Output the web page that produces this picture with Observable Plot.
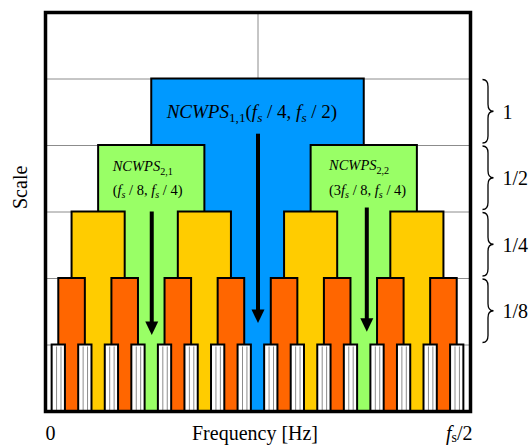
<!DOCTYPE html>
<html><head><meta charset="utf-8">
<script src="https://cdn.jsdelivr.net/npm/d3@7"></script>
<script src="https://cdn.jsdelivr.net/npm/@observablehq/plot@0.6"></script>
<style>body{margin:0;background:#fff;} #chart{width:532px;height:446px;}</style>
</head><body><div id="chart"></div>
<script>
// ---- data ----
// band centres (fraction of fs/2) for each decomposition level
const level1Centers = [0.5];
const level2Centers = [0.25, 0.75];
const level3Centers = [0.125, 0.375, 0.625, 0.875];
const level4Centers = [0.0625, 0.1875, 0.3125, 0.4375, 0.5625, 0.6875, 0.8125, 0.9375];
const level5Centers = [0.03125, 0.09375, 0.15625, 0.21875, 0.28125, 0.34375, 0.40625, 0.46875,
                       0.53125, 0.59375, 0.65625, 0.71875, 0.78125, 0.84375, 0.90625, 0.96875];
const levelWidths = [0.5, 0.25, 0.125, 0.0625, 0.03125];
const levelTops = [5, 4, 3, 2, 1];
const levelColors = ["#0099ff", "#99ff66", "#ffcc00", "#ff6600", "#ffffff"];

const gridRows = [1, 2, 3, 4, 5];
const scaleLabels = ["1", "1/2", "1/4", "1/8"];
const scaleRowTops = [5, 4, 3, 2];
const scaleRowBottoms = [4, 3, 2, 1];

const arrowX = [0.25, 0.5, 0.756];
const arrowTop = [3.0, 4.17, 3.06];
const arrowTip = [1.15, 1.33, 1.2];

const nodeTexts = [
  "<i>NCWPS</i><sub>1,1</sub>(<i>f</i><sub><i>s</i></sub> / 4, <i>f</i><sub><i>s</i></sub> / 2)",
  "<i>NCWPS</i><sub>2,1</sub>",
  "(<i>f</i><sub><i>s</i></sub> / 8, <i>f</i><sub><i>s</i></sub> / 4)",
  "<i>NCWPS</i><sub>2,2</sub>",
  "(3<i>f</i><sub><i>s</i></sub> / 8, <i>f</i><sub><i>s</i></sub> / 4)"
];
const nodeX = [0.285, 0.158, 0.158, 0.667, 0.667];
const nodeY = [4.42, 3.61, 3.26, 3.625, 3.26];

const axisTexts = ["0", "Frequency [Hz]", "<i>f</i><sb>s</sb>/2"];

// ---- build tables ----
const levels = [level1Centers, level2Centers, level3Centers, level4Centers, level5Centers];
const blocks = levels.flatMap((cs, li) => cs.map(c => ({
  x1: c - levelWidths[li] / 2, x2: c + levelWidths[li] / 2,
  y1: 0, y2: levelTops[li], fill: levelColors[li], level: li
})));
const whiteInner = level5Centers.flatMap(c => [c - levelWidths[4] / 6, c + levelWidths[4] / 6]);
const arrows = arrowX.map((x, i) => ({x, top: arrowTop[i], tip: arrowTip[i]}));
const nodes = nodeTexts.map((t, i) => ({t, x: nodeX[i], y: nodeY[i]}));
const braces = scaleLabels.map((l, i) => ({l, top: scaleRowTops[i], bottom: scaleRowBottoms[i]}));

const headSymbol = {
  draw(ctx) { ctx.moveTo(0, 0); ctx.lineTo(-6.5, -13.5); ctx.lineTo(6.5, -13.5); ctx.closePath(); }
};
function braceCurve(context) {
  let pts = [];
  return {
    areaStart() {}, areaEnd() {},
    lineStart() { pts = []; },
    point(x, y) { pts.push([x, y]); },
    lineEnd() {
      const x0 = pts[0][0];
      const ya = Math.min(pts[0][1], pts[1][1]) + 0.5;
      const yb = Math.max(pts[0][1], pts[1][1]) - 2.5;
      const ym = (ya + yb) / 2, h = 5.5, q = 7;
      context.moveTo(x0, ya);
      context.quadraticCurveTo(x0 + h, ya, x0 + h, ya + q);
      context.lineTo(x0 + h, ym - q);
      context.quadraticCurveTo(x0 + h, ym, x0 + 2 * h, ym);
      context.quadraticCurveTo(x0 + h, ym, x0 + h, ym + q);
      context.lineTo(x0 + h, yb - q);
      context.quadraticCurveTo(x0 + h, yb, x0, yb);
    }
  };
}

const marks = [Plot.ruleY(gridRows, {stroke: "#8c8c8c", strokeWidth: 1})];
marks.push(Plot.ruleX([0.5], {y1: 5, y2: 6, stroke: "#8c8c8c", strokeWidth: 1}));
for (let li = 0; li < levels.length; li++) {
  marks.push(Plot.rect(blocks.filter(b => b.level === li),
    {x1: "x1", x2: "x2", y1: "y1", y2: "y2", fill: "fill", stroke: "black", strokeWidth: 2}));
}
marks.push(Plot.ruleX(whiteInner, {y1: 0, y2: 0.97, stroke: "#8c8c8c", strokeWidth: 1}));
marks.push(Plot.ruleX(arrows, {x: "x", y1: "top", y2: d => d.tip + 0.15, stroke: "black", strokeWidth: 4}));
marks.push(Plot.dot(arrows, {x: "x", y: "tip", symbol: headSymbol, fill: "black", stroke: "none"}));
marks.push(Plot.text(nodes.slice(0, 1), {x: "x", y: "y", text: "t", fontSize: 19, textAnchor: "start", lineAnchor: "bottom", fill: "black"}));
marks.push(Plot.text(nodes.slice(1), {x: "x", y: "y", text: "t", fontSize: 14.5, textAnchor: "start", lineAnchor: "bottom", fill: "black"}));
marks.push(Plot.link(braces, {x1: 1, x2: 1, y1: "top", y2: "bottom", dx: 12, curve: braceCurve, stroke: "black", strokeWidth: 1.3}));
marks.push(Plot.text(braces, {x: 1, y: d => (d.top + d.bottom) / 2, text: "l", dx: 32, textAnchor: "start", fontSize: 20, fill: "black"}));
marks.push(Plot.text([axisTexts[0]], {frameAnchor: "bottom-left", text: d => d, dy: 28, lineAnchor: "bottom", textAnchor: "start", fontSize: 20, fill: "black"}));
marks.push(Plot.text([axisTexts[1]], {frameAnchor: "bottom", text: d => d, dx: -3, dy: 28, lineAnchor: "bottom", fontSize: 20, fill: "black"}));
marks.push(Plot.text([axisTexts[2]], {frameAnchor: "bottom-right", text: d => d, dx: 2, dy: 28, lineAnchor: "bottom", textAnchor: "end", fontSize: 20, fill: "black"}));
marks.push(Plot.text(["Scale"], {frameAnchor: "left", text: d => d, dx: -24.5, dy: -3, rotate: -90, fontSize: 20, fill: "black"}));
marks.push(Plot.frame({stroke: "black", strokeWidth: 3.5}));

const svg = Plot.plot({
  width: 532, height: 446,
  marginLeft: 45, marginRight: 62, marginTop: 12, marginBottom: 35,
  x: {domain: [0, 1], axis: null},
  y: {domain: [0, 6], axis: null},
  style: {fontFamily: "'Liberation Serif','Times New Roman',serif", background: "#fff", color: "black", overflow: "visible"},
  marks
});
document.getElementById("chart").append(svg);

function richify(el) {
  const src = el.textContent;
  if (!src.includes("<")) return;
  el.textContent = "";
  let italic = false, sub = 0, prevSub = 0;
  const shifts = {sub: 0.35, sb: 0.16};
  for (const tok of src.split(/(<\/?(?:i|sub|sb)>)/)) {
    if (tok === "<i>") { italic = true; continue; }
    if (tok === "</i>") { italic = false; continue; }
    if (tok === "<sub>" || tok === "<sb>") { sub = shifts[tok.slice(1, -1)]; continue; }
    if (tok === "</sub>" || tok === "</sb>") { sub = 0; continue; }
    if (!tok) continue;
    const t = document.createElementNS("http://www.w3.org/2000/svg", "tspan");
    if (italic) t.setAttribute("font-style", "italic");
    if (sub) {
      t.setAttribute("font-size", "70%");
      if (!prevSub) t.setAttribute("dy", sub + "em");
    } else if (prevSub) {
      t.setAttribute("dy", (-prevSub * 0.7).toFixed(3) + "em");
    }
    t.textContent = tok;
    el.appendChild(t);
    prevSub = sub;
  }
}
svg.querySelectorAll("text").forEach(richify);
</script>
</body></html>
